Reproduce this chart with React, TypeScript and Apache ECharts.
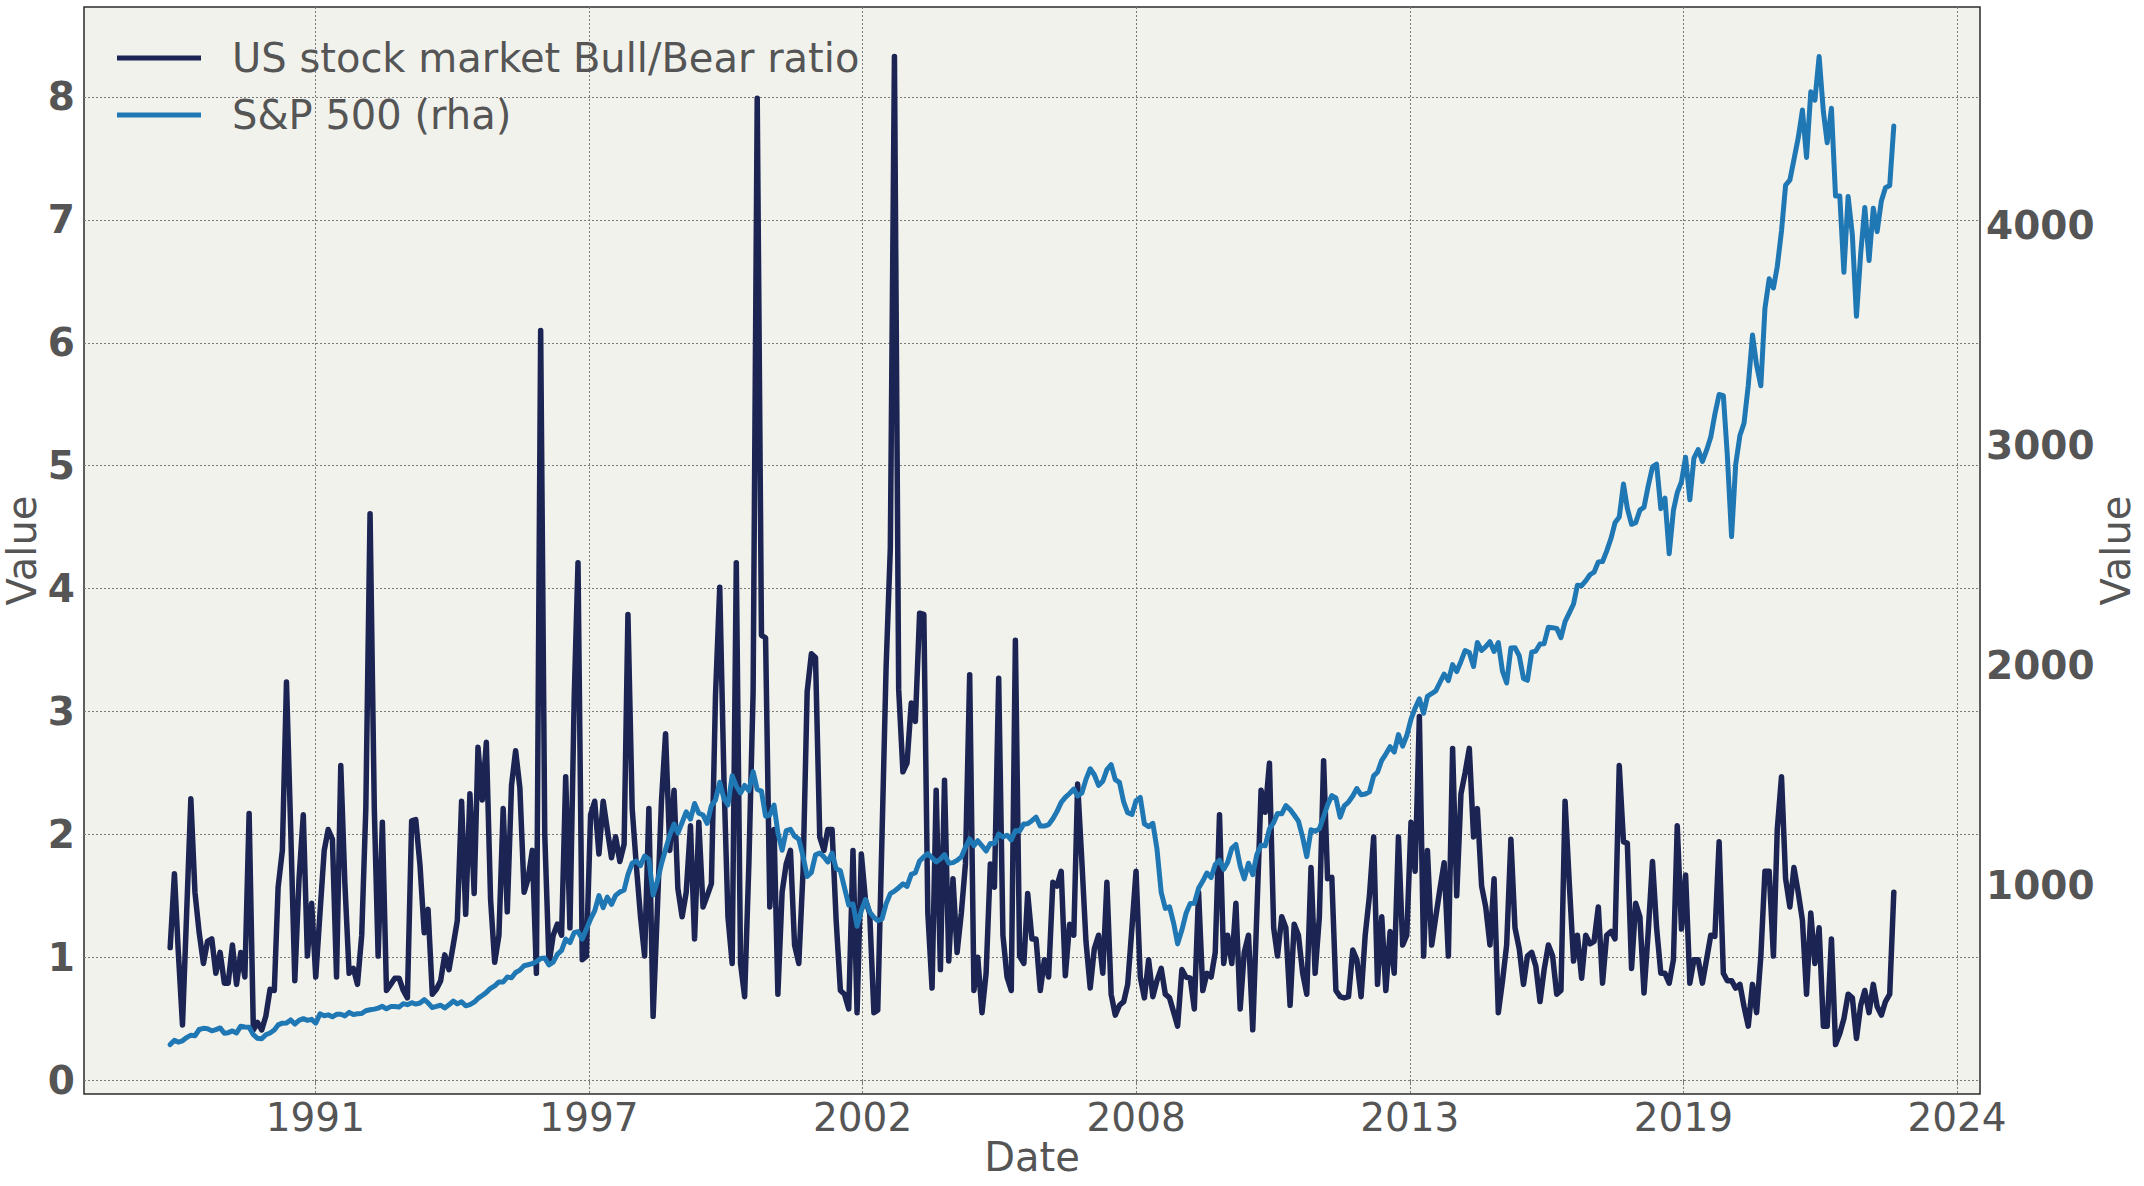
import { useEffect, useRef } from "react";
import * as echarts from "echarts";

// Monthly (month-end) observations, first one at December 1988
const FIRST_YEAR = 1988;
const FIRST_MONTH = 12;

const bullBearRatio: number[] = [
  1.08, 1.68, 1.05, 0.45, 1.35, 2.29, 1.53, 1.2, 0.95, 1.13, 1.15, 0.87, 1.04, 0.79, 0.79, 1.1, 0.78, 1.04, 0.84, 2.17,
  0.41, 0.47, 0.41, 0.52, 0.74, 0.73, 1.57, 1.87, 3.24, 2.04, 0.81, 1.64, 2.16, 1.01, 1.44, 0.84, 1.36, 1.87, 2.04, 1.96, 0.84,
  2.56, 1.6, 0.87, 0.91, 0.78, 1.18, 2.21, 4.61, 2.21, 1.01, 2.1, 0.73, 0.78, 0.83, 0.83, 0.73, 0.67, 2.11, 2.12, 1.75,
  1.2, 1.39, 0.7, 0.74, 0.81, 1.02, 0.9, 1.1, 1.3, 2.27, 1.35, 2.33, 1.52, 2.71, 2.28, 2.75, 1.47, 0.96, 1.18, 2.21, 1.37, 2.4,
  2.68, 2.38, 1.53, 1.64, 1.87, 0.87, 6.1, 2.0, 0.95, 1.18, 1.27, 1.18, 2.47, 1.24, 3.1, 4.21, 0.98, 1.01, 2.16, 2.27,
  1.84, 2.27, 2.04, 1.81, 1.98, 1.78, 1.92, 3.79, 2.21, 1.75, 1.33, 1.01, 2.21, 0.52, 1.36, 2.27, 2.82, 1.87, 2.36, 1.56, 1.33, 1.53,
  2.07, 1.15, 2.1, 1.41, 1.5, 1.6, 3.13, 4.01, 2.44, 1.33, 0.95, 4.21, 0.95, 0.68, 1.76, 3.16, 7.99, 3.62, 3.6, 1.41,
  2.04, 0.7, 1.53, 1.76, 1.87, 1.1, 0.95, 1.7, 3.16, 3.47, 3.44, 1.98, 1.87, 2.04, 2.04, 1.3, 0.73, 0.7, 0.58, 1.87, 0.55, 1.84,
  1.47, 1.36, 0.55, 0.57, 1.98, 3.36, 4.33, 8.33, 3.18, 2.51, 2.58, 3.07, 2.92, 3.8, 3.79, 1.36, 0.75, 2.36, 0.9, 2.44,
  0.97, 1.64, 1.04, 1.36, 1.76, 3.3, 0.73, 1.0, 0.55, 0.87, 1.76, 1.57, 3.27, 1.18, 0.84, 0.73, 3.58, 1.01, 0.95, 1.52, 1.15, 1.15, 0.73,
  0.98, 0.84, 1.61, 1.58, 1.7, 0.85, 1.27, 1.18, 2.41, 1.78, 1.13, 0.75, 1.07, 1.18, 0.87, 1.61, 0.7, 0.53, 0.61, 0.64,
  0.78, 1.24, 1.7, 0.84, 0.67, 0.98, 0.68, 0.81, 0.91, 0.7, 0.67, 0.55, 0.44, 0.9, 0.84, 0.83, 0.58, 1.53, 0.73, 0.87, 0.84, 1.04,
  2.16, 0.95, 1.18, 0.95, 1.44, 0.58, 1.04, 1.18, 0.41, 1.36, 2.36, 2.18, 2.58, 1.24, 1.01, 1.33, 1.24, 0.61, 1.27, 1.18,
  0.87, 0.7, 1.73, 0.87, 1.33, 2.6, 1.64, 1.65, 0.73, 0.68, 0.67, 0.68, 1.06, 0.98, 0.68, 1.18, 1.5, 1.98, 0.78, 1.33, 0.73, 1.21,
  0.87, 1.98, 1.1, 1.18, 2.1, 1.7, 2.96, 1.01, 1.87, 1.1, 1.33, 1.56, 1.77, 1.01, 2.7, 1.5, 2.33, 2.5, 2.7, 1.98,
  2.21, 1.58, 1.41, 1.1, 1.64, 0.55, 0.81, 1.1, 1.96, 1.24, 1.07, 0.78, 1.01, 1.04, 0.93, 0.64, 0.9, 1.1, 1.01, 0.7, 0.73, 2.27,
  1.6, 0.97, 1.18, 0.83, 1.18, 1.11, 1.13, 1.41, 0.79, 1.18, 1.21, 1.15, 2.56, 1.94, 1.93, 0.91, 1.44, 1.33, 0.71, 1.21,
  1.78, 1.24, 0.87, 0.87, 0.79, 0.98, 2.07, 1.23, 1.67, 0.79, 0.98, 0.98, 0.79, 0.98, 1.18, 1.17, 1.94, 0.87, 0.81, 0.81, 0.75, 0.78,
  0.6, 0.44, 0.78, 0.55, 1.01, 1.7, 1.7, 1.01, 2.04, 2.47, 1.64, 1.41, 1.73, 1.53, 1.3, 0.7, 1.36, 0.95, 1.24, 0.44,
  0.44, 1.15, 0.29, 0.38, 0.5, 0.7, 0.67, 0.34, 0.61, 0.73, 0.55, 0.78, 0.6, 0.53, 0.64, 0.7, 1.53,
];

const sp500: number[] = [
  277.7,
  297.5, 288.9, 294.9, 309.6, 320.5, 318.0, 346.1, 351.5, 349.2, 340.4, 346.0, 353.4,
  329.1, 331.9, 339.9, 330.8, 361.2, 358.0, 356.2, 322.6, 306.1, 304.0, 322.2, 330.2,
  343.9, 367.1, 375.2, 375.3, 389.8, 371.2, 387.8, 395.4, 387.9, 392.5, 375.2, 417.1,
  408.8, 412.7, 403.7, 415.0, 415.4, 408.1, 424.2, 414.0, 417.8, 418.7, 431.4, 435.7,
  438.8, 443.4, 451.7, 440.2, 450.2, 450.5, 448.1, 463.6, 458.9, 467.8, 461.8, 466.5,
  481.6, 467.1, 445.8, 450.9, 456.5, 444.3, 458.3, 475.5, 462.7, 472.4, 453.7, 459.3,
  470.4, 487.4, 500.7, 514.7, 533.4, 544.8, 562.1, 561.9, 584.4, 581.5, 605.4, 615.9,
  636.0, 640.4, 645.5, 654.2, 669.1, 670.6, 640.0, 652.0, 687.3, 705.3, 757.0, 740.7,
  786.2, 790.8, 757.1, 801.3, 848.3, 885.1, 954.3, 899.5, 947.3, 914.6, 955.4, 970.4,
  980.3, 1049.3, 1101.8, 1111.8, 1090.8, 1133.8, 1120.7, 957.3, 1017.0, 1098.7, 1163.6, 1229.2,
  1279.6, 1238.3, 1286.4, 1335.2, 1301.8, 1372.7, 1328.7, 1320.4, 1282.7, 1362.9, 1388.9, 1469.3,
  1394.5, 1366.4, 1498.6, 1452.4, 1420.6, 1454.6, 1430.8, 1517.7, 1436.5, 1429.4, 1315.0, 1320.3,
  1366.0, 1239.9, 1160.3, 1249.5, 1255.8, 1224.4, 1211.2, 1133.6, 1040.9, 1059.8, 1139.5, 1148.1,
  1130.2, 1106.7, 1147.4, 1076.9, 1067.1, 989.8, 911.6, 916.1, 815.3, 885.8, 936.3, 879.8,
  855.7, 841.2, 848.2, 916.9, 963.6, 974.5, 990.3, 1008.0, 996.0, 1050.7, 1058.2, 1111.9,
  1131.1, 1144.9, 1126.2, 1107.3, 1120.7, 1140.8, 1101.7, 1104.2, 1114.6, 1130.2, 1173.8, 1211.9,
  1181.3, 1203.6, 1180.6, 1156.9, 1191.5, 1191.3, 1234.2, 1220.3, 1228.8, 1207.0, 1249.5, 1248.3,
  1280.1, 1280.7, 1294.8, 1310.6, 1270.1, 1270.2, 1276.7, 1303.8, 1335.9, 1377.9, 1400.6, 1418.3,
  1438.2, 1406.8, 1420.9, 1482.4, 1530.6, 1503.4, 1455.3, 1474.0, 1526.8, 1549.4, 1481.1, 1468.4,
  1378.6, 1330.6, 1322.7, 1385.6, 1400.4, 1280.0, 1267.4, 1282.8, 1166.4, 968.8, 896.2, 903.3,
  825.9, 735.1, 797.9, 872.8, 919.1, 919.3, 987.5, 1020.6, 1057.1, 1036.2, 1095.6, 1115.1,
  1073.9, 1104.5, 1169.4, 1186.7, 1089.4, 1030.7, 1101.6, 1049.3, 1141.2, 1183.3, 1180.6, 1257.6,
  1286.1, 1327.2, 1325.8, 1363.6, 1345.2, 1320.6, 1292.3, 1218.9, 1131.4, 1253.3, 1247.0, 1257.6,
  1312.4, 1365.7, 1408.5, 1397.9, 1310.3, 1362.2, 1379.3, 1406.6, 1440.7, 1412.2, 1416.2, 1426.2,
  1498.1, 1514.7, 1569.2, 1597.6, 1630.7, 1606.3, 1685.7, 1633.0, 1681.6, 1756.5, 1805.8, 1848.4,
  1782.6, 1859.5, 1872.3, 1884.0, 1923.6, 1960.2, 1930.7, 2003.4, 1972.3, 2018.1, 2067.6, 2058.9,
  1995.0, 2104.5, 2067.9, 2085.5, 2107.4, 2063.1, 2103.8, 1972.2, 1920.0, 2079.4, 2080.4, 2043.9,
  1940.2, 1932.2, 2059.7, 2065.3, 2097.0, 2098.9, 2173.6, 2171.0, 2168.3, 2126.2, 2198.8, 2238.8,
  2278.9, 2363.6, 2362.7, 2384.2, 2411.8, 2423.4, 2470.3, 2471.7, 2519.4, 2575.3, 2647.6, 2673.6,
  2823.8, 2713.8, 2640.9, 2648.1, 2705.3, 2718.4, 2816.3, 2901.5, 2914.0, 2711.7, 2760.2, 2506.9,
  2704.1, 2784.5, 2834.4, 2945.8, 2752.1, 2941.8, 2980.4, 2926.5, 2976.7, 3037.6, 3141.0, 3230.8,
  3225.5, 2954.2, 2584.6, 2912.4, 3044.3, 3100.3, 3271.1, 3500.3, 3363.0, 3270.0, 3621.6, 3756.1,
  3714.2, 3811.2, 3972.9, 4181.2, 4204.1, 4297.5, 4395.3, 4522.7, 4307.5, 4605.4, 4567.0, 4766.2,
  4515.6, 4373.9, 4530.4, 4131.9, 4132.2, 3785.4, 4130.3, 3955.0, 3585.6, 3872.0, 4080.1, 3839.5,
  4076.6, 3970.2, 4109.3, 4169.5, 4179.8, 4450.4,
];

// tick positions (days since 1970-01-01) on the date axis, and value ticks
const xTickDays = [8000, 10000, 12000, 14000, 16000, 18000, 20000];
const leftTicks = [0, 1, 2, 3, 4, 5, 6, 7, 8];
const rightTicks = [1000, 2000, 3000, 4000];

const SERIES_NAMES = ["US stock market Bull/Bear ratio", "S&P 500 (rha)"];

const DAY_MS = 86400000;
const FONT = "DejaVu Sans";
const TEXT = "#555555";
const GRID_LINE = { color: "#7a7a7a", width: 1, type: [2, 2] as number[] };

function monthEndDays(count: number): number[] {
  const out: number[] = [];
  for (let k = 0; k < count; k++) {
    const m0 = FIRST_MONTH - 1 + k;
    const y = FIRST_YEAR + Math.floor(m0 / 12);
    const m = m0 % 12;
    out.push(Date.UTC(y, m + 1, 0) / DAY_MS);
  }
  return out;
}

function padded(values: number[]): [number, number] {
  const lo = Math.min(...values);
  const hi = Math.max(...values);
  const r = hi - lo;
  return [lo - 0.05 * r, hi + 0.05 * r];
}

export default function App() {
  const ref = useRef<HTMLDivElement>(null);

  useEffect(() => {
    if (!ref.current) return;
    const chart = echarts.init(ref.current, null, { renderer: "svg" });
    const days = monthEndDays(sp500.length);
    const [xMin, xMax] = padded(days);
    const [ylMin, ylMax] = padded(bullBearRatio);
    const [yrMin, yrMax] = padded(sp500);

    const option: any = {
      animation: false,
      backgroundColor: "#ffffff",
      textStyle: { fontFamily: FONT },
      grid: {
        left: 84,
        right: 164,
        top: 7,
        bottom: 92,
        show: true,
        backgroundColor: "#f2f2ed",
        borderColor: "#2b2b2b",
        borderWidth: 1.5,
        containLabel: false,
        outerBoundsMode: "none",
      },
      legend: {
        orient: "vertical",
        left: 112,
        top: 30,
        itemWidth: 84,
        itemHeight: 5,
        itemGap: 11,
        icon: "rect",
        data: SERIES_NAMES,
        textStyle: {
          fontFamily: FONT,
          fontSize: 40,
          color: TEXT,
          lineHeight: 46,
          padding: [0, 0, 0, 26],
        },
      },
      xAxis: {
        type: "value",
        min: xMin,
        max: xMax,
        name: "Date",
        nameLocation: "middle",
        nameGap: 43,
        nameMoveOverlap: false,
        nameTextStyle: { fontFamily: FONT, fontSize: 40, color: TEXT },
        axisLine: { show: false },
        axisTick: { show: true, customValues: xTickDays, length: 5, lineStyle: { color: "#7a7a7a" } },
        axisLabel: {
          customValues: xTickDays,
          formatter: (v: number) => String(new Date(v * DAY_MS).getUTCFullYear()),
          fontFamily: FONT,
          fontSize: 39,
          color: TEXT,
          margin: 4,
        },
        splitLine: { show: true, lineStyle: GRID_LINE },
      },
      yAxis: [
        {
          type: "value",
          position: "left",
          min: ylMin,
          max: ylMax,
          name: "Value",
          nameLocation: "middle",
          nameGap: 42,
          nameRotate: 90,
          nameMoveOverlap: false,
          nameTextStyle: { fontFamily: FONT, fontSize: 40, color: TEXT },
          axisLine: { show: false },
          axisTick: { show: false, customValues: leftTicks },
          axisLabel: {
            customValues: leftTicks,
            formatter: (v: number) => String(v),
            fontFamily: FONT,
            fontSize: 39,
            fontWeight: "bold",
            color: TEXT,
            margin: 9,
          },
          splitLine: { show: true, lineStyle: GRID_LINE },
        },
        {
          type: "value",
          position: "right",
          min: yrMin,
          max: yrMax,
          name: "Value",
          nameLocation: "middle",
          nameGap: 116,
          nameRotate: 90,
          nameMoveOverlap: false,
          nameTextStyle: { fontFamily: FONT, fontSize: 40, color: TEXT },
          axisLine: { show: false },
          axisTick: { show: false, customValues: rightTicks },
          axisLabel: {
            customValues: rightTicks,
            formatter: (v: number) => String(v),
            fontFamily: FONT,
            fontSize: 39,
            fontWeight: "bold",
            color: TEXT,
            margin: 6,
          },
          splitLine: { show: false },
        },
      ],
      series: [
        {
          name: SERIES_NAMES[0],
          type: "line",
          xAxisIndex: 0,
          yAxisIndex: 0,
          data: days.map((d, i) => [d, bullBearRatio[i]]),
          showSymbol: false,
          symbol: "none",
          lineStyle: { width: 5.5, color: "#1b2452", join: "round", cap: "round" },
          itemStyle: { color: "#1b2452" },
          z: 2,
        },
        {
          name: SERIES_NAMES[1],
          type: "line",
          xAxisIndex: 0,
          yAxisIndex: 1,
          data: days.map((d, i) => [d, sp500[i]]),
          showSymbol: false,
          symbol: "none",
          lineStyle: { width: 5, color: "#1f77b4", join: "round", cap: "round" },
          itemStyle: { color: "#1f77b4" },
          z: 3,
        },
      ],
    };

    chart.setOption(option);
    return () => chart.dispose();
  }, []);

  return (
    <div
      ref={ref}
      style={{ position: "fixed", left: 0, top: 0, width: 2144, height: 1186, background: "#ffffff" }}
    />
  );
}
